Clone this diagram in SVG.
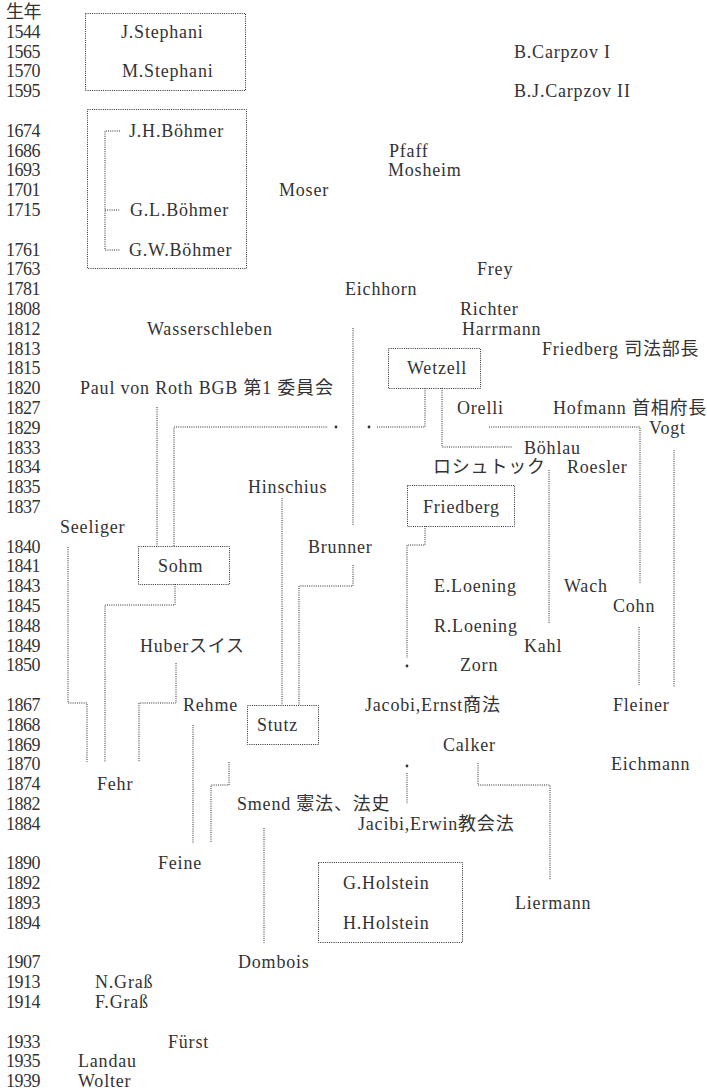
<svg xmlns="http://www.w3.org/2000/svg" width="707" height="1092" viewBox="0 0 707 1092">
<style>
text{font-family:'Liberation Serif','Noto Sans CJK JP',serif;font-size:18px;fill:#333;letter-spacing:0.8px}
.yr{letter-spacing:-0.5px}
.box{fill:none;stroke:#2a2a2a;stroke-width:1;stroke-dasharray:1 1.2}
.ln{fill:none;stroke:#2a2a2a;stroke-width:1;stroke-dasharray:1 1.2}
.dot{fill:#333}
</style>
<rect width="707" height="1092" fill="#fff"/>
<g id="years">
<text x="6" y="18" class="yr">生年</text>
<text x="6" y="37.8" class="yr">1544</text>
<text x="6" y="57.6" class="yr">1565</text>
<text x="6" y="77.4" class="yr">1570</text>
<text x="6" y="97.2" class="yr">1595</text>
<text x="6" y="136.8" class="yr">1674</text>
<text x="6" y="156.6" class="yr">1686</text>
<text x="6" y="176.4" class="yr">1693</text>
<text x="6" y="196.2" class="yr">1701</text>
<text x="6" y="216" class="yr">1715</text>
<text x="6" y="255.6" class="yr">1761</text>
<text x="6" y="275.4" class="yr">1763</text>
<text x="6" y="295.2" class="yr">1781</text>
<text x="6" y="315" class="yr">1808</text>
<text x="6" y="334.8" class="yr">1812</text>
<text x="6" y="354.6" class="yr">1813</text>
<text x="6" y="374.4" class="yr">1815</text>
<text x="6" y="394.2" class="yr">1820</text>
<text x="6" y="414" class="yr">1827</text>
<text x="6" y="433.8" class="yr">1829</text>
<text x="6" y="453.6" class="yr">1833</text>
<text x="6" y="473.4" class="yr">1834</text>
<text x="6" y="493.2" class="yr">1835</text>
<text x="6" y="513" class="yr">1837</text>
<text x="6" y="552.6" class="yr">1840</text>
<text x="6" y="572.4" class="yr">1841</text>
<text x="6" y="592.2" class="yr">1843</text>
<text x="6" y="612" class="yr">1845</text>
<text x="6" y="631.8" class="yr">1848</text>
<text x="6" y="651.6" class="yr">1849</text>
<text x="6" y="671.4" class="yr">1850</text>
<text x="6" y="711" class="yr">1867</text>
<text x="6" y="730.8" class="yr">1868</text>
<text x="6" y="750.6" class="yr">1869</text>
<text x="6" y="770.4" class="yr">1870</text>
<text x="6" y="790.2" class="yr">1874</text>
<text x="6" y="810" class="yr">1882</text>
<text x="6" y="829.8" class="yr">1884</text>
<text x="6" y="869.4" class="yr">1890</text>
<text x="6" y="889.2" class="yr">1892</text>
<text x="6" y="909" class="yr">1893</text>
<text x="6" y="928.8" class="yr">1894</text>
<text x="6" y="968.4" class="yr">1907</text>
<text x="6" y="988.2" class="yr">1913</text>
<text x="6" y="1008" class="yr">1914</text>
<text x="6" y="1047.6" class="yr">1933</text>
<text x="6" y="1067.4" class="yr">1935</text>
<text x="6" y="1087.2" class="yr">1939</text>
</g>
<g id="connectors">
<path class="ln" d="M120,131 H105 V250 H120 M105,210 H120"/>
<path class="ln" d="M157,407 V546"/>
<path class="ln" d="M174,546 V427 H328"/>
<path class="ln" d="M353,328 V525"/>
<path class="ln" d="M377,427 H425 V388"/>
<path class="ln" d="M442,388 V447 H512"/>
<path class="ln" d="M489,427 H640 V583"/>
<path class="ln" d="M549,470 V623"/>
<path class="ln" d="M674,450 V687"/>
<path class="ln" d="M425,526 V545 H407 V658"/>
<path class="ln" d="M282,498 V705"/>
<path class="ln" d="M353,565 V586 H299 V705"/>
<path class="ln" d="M639,627 V685"/>
<path class="ln" d="M175,584 V605 H105 V762"/>
<path class="ln" d="M68,547 V703 H87 V762"/>
<path class="ln" d="M176,663 V703 H139 V762"/>
<path class="ln" d="M193,725 V843"/>
<path class="ln" d="M229,762 V785 H211 V843"/>
<path class="ln" d="M407,773 V804"/>
<path class="ln" d="M478,763 V785 H550 V880"/>
<path class="ln" d="M264,828 V943"/>
<circle class="dot" cx="336" cy="427" r="1.4"/>
<circle class="dot" cx="369" cy="427" r="1.4"/>
<circle class="dot" cx="407" cy="666" r="1.4"/>
<circle class="dot" cx="407" cy="766" r="1.4"/>
</g>
<g id="stephani"><rect class="box" x="85.5" y="13.5" width="160" height="77"/>
<text x="121" y="37.8">J.Stephani</text><text x="122" y="77.4">M.Stephani</text></g>
<g id="boehmer"><rect class="box" x="87.5" y="109.5" width="159" height="159"/>
<text x="129" y="136.8">J.H.Böhmer</text><text x="130" y="216">G.L.Böhmer</text><text x="129" y="255.6">G.W.Böhmer</text></g>
<g id="carpzov1"><text x="514" y="57.6">B.Carpzov I</text></g>
<g id="carpzov2"><text x="514" y="97.2">B.J.Carpzov II</text></g>
<g id="pfaff"><text x="389" y="156.6">Pfaff</text></g>
<g id="mosheim"><text x="388" y="176.4">Mosheim</text></g>
<g id="moser"><text x="279" y="196.2">Moser</text></g>
<g id="frey"><text x="477" y="275.4">Frey</text></g>
<g id="eichhorn"><text x="345" y="295.2">Eichhorn</text></g>
<g id="richter"><text x="460" y="315">Richter</text></g>
<g id="wasserschleben"><text x="147" y="334.8">Wasserschleben</text></g>
<g id="harrmann"><text x="462" y="334.8">Harrmann</text></g>
<g id="friedberg-minister"><text x="542" y="354.6">Friedberg 司法部長</text></g>
<g id="wetzell"><rect class="box" x="388.5" y="348.5" width="92" height="40"/><text x="407" y="374.4">Wetzell</text></g>
<g id="roth"><text x="80" y="394.2">Paul von Roth BGB 第1 委員会</text></g>
<g id="orelli"><text x="457" y="414">Orelli</text></g>
<g id="hofmann"><text x="553" y="414">Hofmann 首相府長</text></g>
<g id="vogt"><text x="649" y="433.8">Vogt</text></g>
<g id="boehlau"><text x="524" y="453.6">Böhlau</text></g>
<g id="rostock"><text x="433" y="473.4">ロシュトック</text></g>
<g id="roesler"><text x="567" y="473.4">Roesler</text></g>
<g id="hinschius"><text x="248" y="493.2">Hinschius</text></g>
<g id="friedberg"><rect class="box" x="407.5" y="485.5" width="107" height="41"/><text x="423" y="513">Friedberg</text></g>
<g id="seeliger"><text x="60" y="532.8">Seeliger</text></g>
<g id="brunner"><text x="308" y="552.6">Brunner</text></g>
<g id="sohm"><rect class="box" x="138.5" y="546.5" width="91" height="38"/><text x="158" y="572.4">Sohm</text></g>
<g id="e-loening"><text x="434" y="592.2">E.Loening</text></g>
<g id="wach"><text x="564" y="592.2">Wach</text></g>
<g id="cohn"><text x="613" y="612">Cohn</text></g>
<g id="r-loening"><text x="434" y="631.8">R.Loening</text></g>
<g id="huber"><text x="140" y="651.6">Huberスイス</text></g>
<g id="kahl"><text x="524" y="651.6">Kahl</text></g>
<g id="zorn"><text x="460" y="671.4">Zorn</text></g>
<g id="rehme"><text x="183" y="711">Rehme</text></g>
<g id="jacobi-ernst"><text x="365" y="711">Jacobi,Ernst商法</text></g>
<g id="fleiner"><text x="613" y="711">Fleiner</text></g>
<g id="stutz"><rect class="box" x="247.5" y="705.5" width="71" height="39"/><text x="257" y="730.8">Stutz</text></g>
<g id="calker"><text x="443" y="750.6">Calker</text></g>
<g id="eichmann"><text x="611" y="770.4">Eichmann</text></g>
<g id="fehr"><text x="97" y="790.2">Fehr</text></g>
<g id="smend"><text x="237" y="810">Smend 憲法、法史</text></g>
<g id="jacobi-erwin"><text x="358" y="829.8">Jacibi,Erwin教会法</text></g>
<g id="feine"><text x="158" y="869.4">Feine</text></g>
<g id="holstein"><rect class="box" x="318.5" y="862.5" width="144" height="80"/>
<text x="343" y="889.2">G.Holstein</text><text x="343" y="928.8">H.Holstein</text></g>
<g id="liermann"><text x="515" y="909">Liermann</text></g>
<g id="dombois"><text x="238" y="968.4">Dombois</text></g>
<g id="n-grass"><text x="95" y="988.2">N.Graß</text></g>
<g id="f-grass"><text x="95" y="1008">F.Graß</text></g>
<g id="fuerst"><text x="168" y="1047.6">Fürst</text></g>
<g id="landau"><text x="78" y="1067.4">Landau</text></g>
<g id="wolter"><text x="78" y="1087.2">Wolter</text></g>
</svg>
